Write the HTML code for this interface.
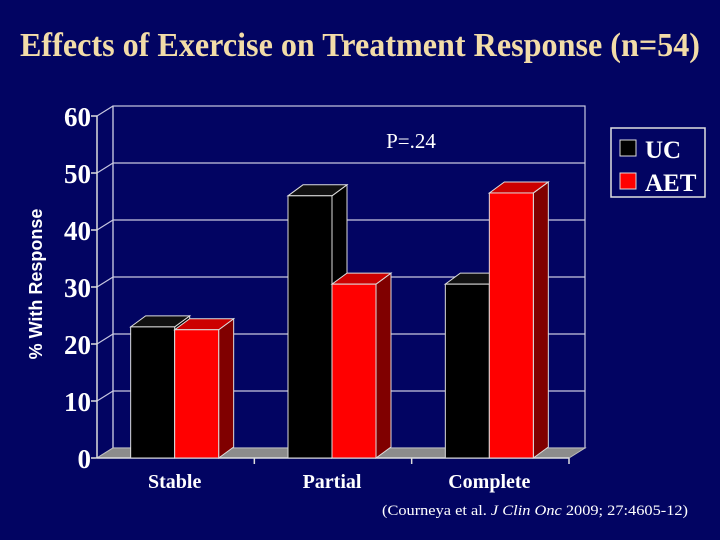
<!DOCTYPE html>
<html><head><meta charset="utf-8"><style>
html,body{margin:0;padding:0;background:#020462;}
svg{display:block}
</style></head><body>
<svg width="720" height="540" viewBox="0 0 720 540" xmlns="http://www.w3.org/2000/svg">
<rect width="720" height="540" fill="#020462"/>
<text x="20" y="56" font-family="Liberation Serif, serif" font-weight="bold" font-size="34" fill="#f2dca8" textLength="680" lengthAdjust="spacingAndGlyphs">Effects of Exercise on Treatment Response (n=54)</text>
<g id="plot"></g>
<text x="411" y="148" text-anchor="middle" font-family="Liberation Serif, serif" font-size="21" fill="#ffffff">P=.24</text>
<text transform="translate(42,284) rotate(-90)" text-anchor="middle" font-family="Liberation Sans, sans-serif" font-weight="bold" font-size="18" fill="#ffffff">% With Response</text>
<g>
<rect x="611" y="128" width="94" height="69" fill="none" stroke="#e0e0e0" stroke-width="1.5"/>
<rect x="620" y="140" width="16" height="16" fill="#000" stroke="#ddd"/>
<text x="645" y="158" font-family="Liberation Serif, serif" font-weight="bold" font-size="25" fill="#fff">UC</text>
<rect x="620" y="173" width="16" height="16" fill="#ff0000" stroke="#ddd"/>
<text x="645" y="191" font-family="Liberation Serif, serif" font-weight="bold" font-size="25" fill="#fff">AET</text>
</g>
<text x="382" y="515" font-family="Liberation Serif, serif" font-size="15" fill="#ffffff" textLength="306" lengthAdjust="spacingAndGlyphs">(Courneya et al. <tspan font-style="italic">J Clin Onc</tspan> 2009; 27:4605-12)</text>
</svg>
<script>
const categories = ["Stable", "Partial", "Complete"];
const ucValues = [23, 46, 30.5];
const aetValues = [22.5, 30.5, 46.5];
const yTicks = [0, 10, 20, 30, 40, 50, 60];

const NS = "http://www.w3.org/2000/svg";
const g = document.getElementById("plot");
const X0 = 97, X1 = 569, Y0 = 458, YTOP = 116, DX = 16, DY = -10, BDX = 15, BDY = -11;
const yMax = 60;
function yScale(v){ return Y0 - (v / yMax) * (Y0 - YTOP); }
const catW = (X1 - X0) / categories.length;
function mk(tag, attrs){ const e = document.createElementNS(NS, tag); for (const k in attrs) e.setAttribute(k, attrs[k]); g.appendChild(e); return e; }

let wall = mk("rect", {x: X0 + DX, y: yScale(yMax) + DY, width: X1 - X0, height: Y0 - YTOP, fill: "none", stroke: "#c8c8e0", "stroke-width": 1.2});


yTicks.forEach(t => {
  const y = yScale(t);
  if (t > 0 && t < yMax) {
    const gl = mk("line", {x1: X0 + DX, y1: y + DY, x2: X1 + DX, y2: y + DY, stroke: "#c8c8e0", "stroke-width": 1.2});
    
    
  }
  const sl = mk("line", {x1: X0, y1: y, x2: X0 + DX, y2: y + DY, stroke: "#c8c8e0", "stroke-width": 1.2});
  
  
  const tk = mk("line", {x1: X0 - 6, y1: y, x2: X0, y2: y, stroke: "#ddd", "stroke-width": 1.5});
  
  
  const tl = mk("text", {x: X0 - 6, y: y + 10, "text-anchor": "end", "font-family": "Liberation Serif, serif", "font-weight": "bold", "font-size": 27, fill: "#fff"});
  tl.textContent = t;
  
  
});
let lw = mk("line", {x1: X0 + DX, y1: yScale(0) + DY, x2: X0 + DX, y2: yScale(yMax) + DY, stroke: "#c8c8e0", "stroke-width": 1.2});


let fl = mk("polygon", {points: `${X0},${Y0} ${X1},${Y0} ${X1 + DX},${Y0 + DY} ${X0 + DX},${Y0 + DY}`, fill: "#8c8c8c", stroke: "#bbb", "stroke-width": 1});


let ya = mk("line", {x1: X0, y1: Y0, x2: X0, y2: YTOP, stroke: "#ddd", "stroke-width": 1.5});


let xa = mk("line", {x1: X0, y1: Y0, x2: X1, y2: Y0, stroke: "#ddd", "stroke-width": 1.5});



function bar(x, w, v, front, top, side, name){
  const yt = yScale(v);
  const p1 = mk("polygon", {points: `${x+w},${Y0} ${x+w+BDX},${Y0+BDY} ${x+w+BDX},${yt+BDY} ${x+w},${yt}`, fill: side, stroke: "#ddd", "stroke-width": 1});
  
  
  const p2 = mk("polygon", {points: `${x},${yt} ${x+w},${yt} ${x+w+BDX},${yt+BDY} ${x+BDX},${yt+BDY}`, fill: top, stroke: "#ddd", "stroke-width": 1});
  
  
  const r = mk("rect", {x: x, y: yt, width: w, height: Y0 - yt, fill: front, stroke: "#ddd", "stroke-width": 1});
  
  
}
categories.forEach((c, i) => {
  const cx = X0 + catW * (i + 0.5) + 1;
  const bw = 44;
  bar(cx - bw - 2, bw, ucValues[i], "#000000", "#111111", "#000000", 'bar-uc-' + c.toLowerCase());
  bar(cx - 2, bw, aetValues[i], "#ff0000", "#cc0000", "#800000", 'bar-aet-' + c.toLowerCase());
  const lbl = mk("text", {x: cx - 2, y: 488, "text-anchor": "middle", "font-family": "Liberation Serif, serif", "font-weight": "bold", "font-size": 20, fill: "#fff"});
  lbl.textContent = c;
  
  
  const xt = X0 + catW * (i + 1);
  const tk = mk("line", {x1: xt, y1: Y0, x2: xt, y2: Y0 + 6, stroke: "#ddd", "stroke-width": 1.5});
  
  
});
</script>
</body></html>
